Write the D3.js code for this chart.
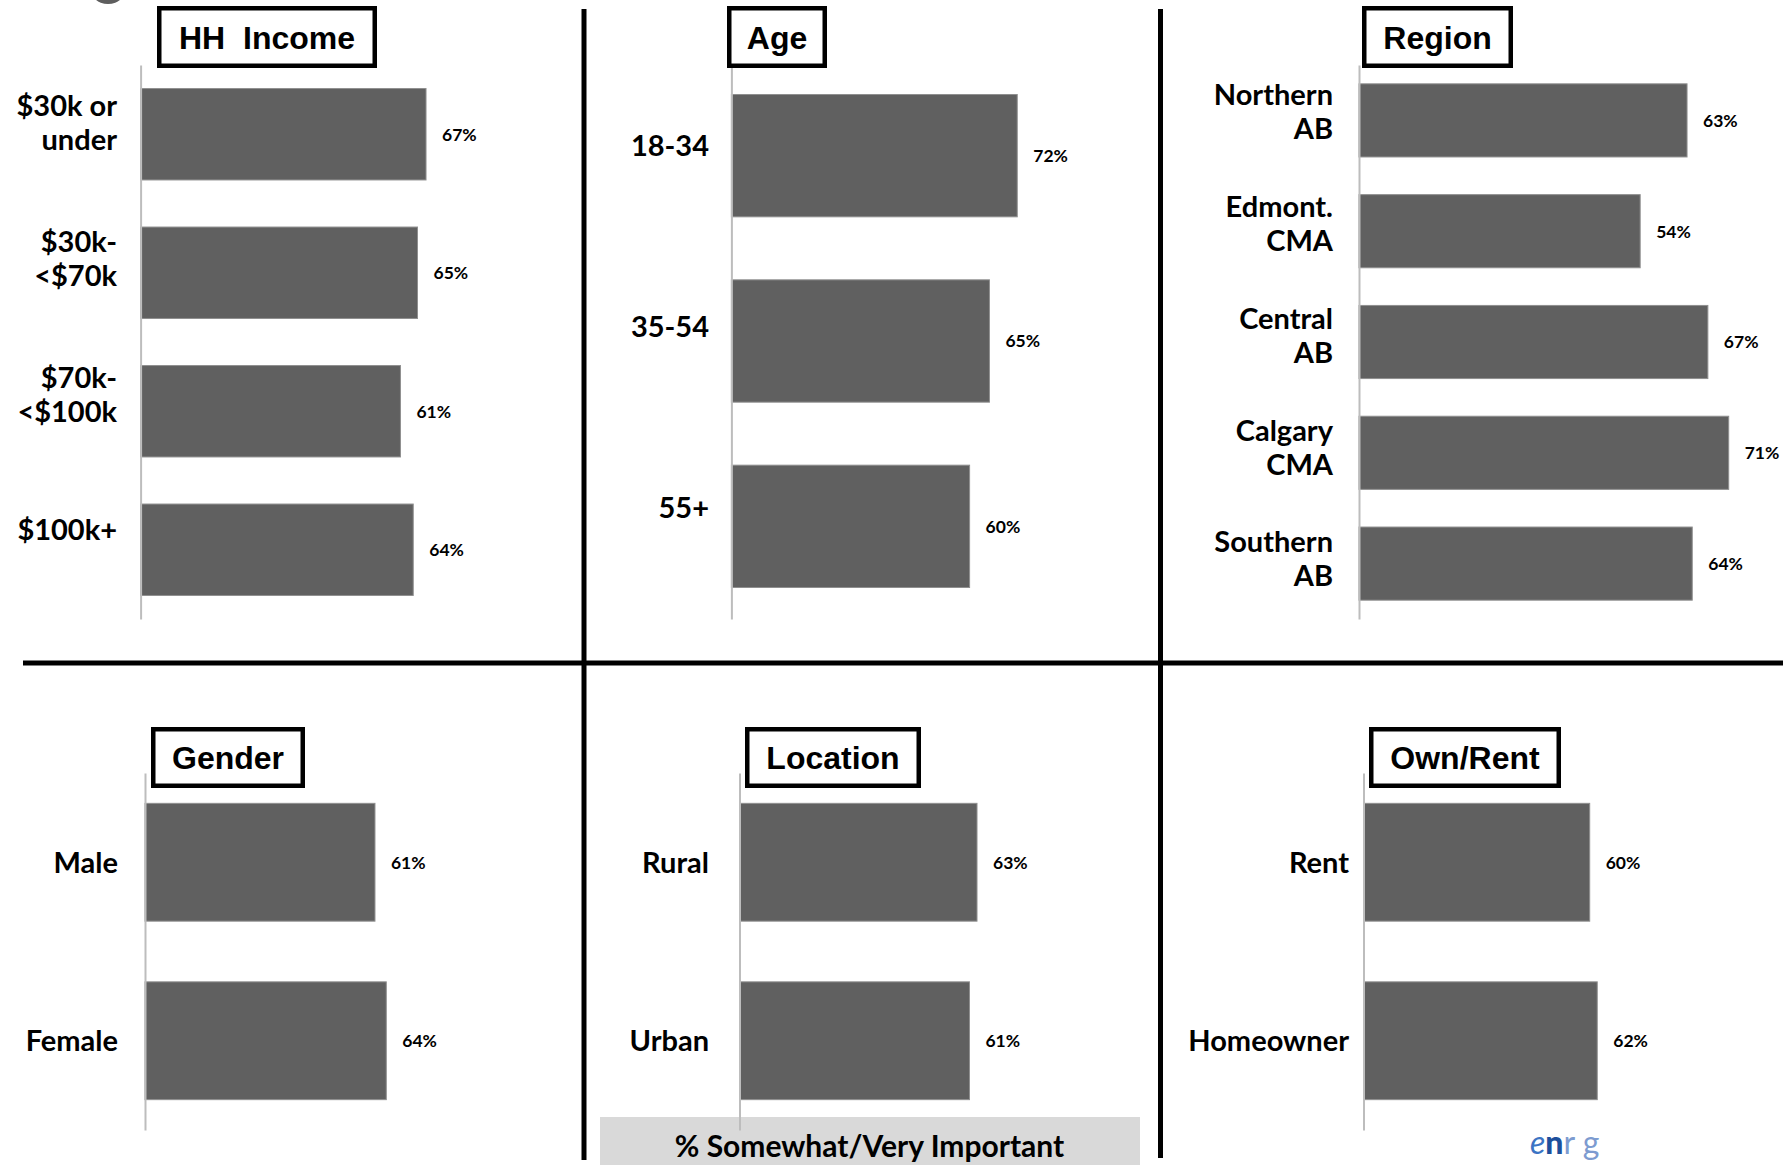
<!DOCTYPE html>
<html>
<head>
<meta charset="utf-8">
<script src="https://cdn.jsdelivr.net/npm/d3@7"></script>
<style>
  html, body { margin: 0; padding: 0; background: #ffffff; }
  svg { display: block; }
</style>
</head>
<body>
<svg id="chart" width="1792" height="1165"></svg>
<script>
// ---- data ----
const incomeCategories = ["$30k or\nunder", "$30k-\n<$70k", "$70k-\n<$100k", "$100k+"];
const incomeValues = [67, 65, 61, 64];

const ageCategories = ["18-34", "35-54", "55+"];
const ageValues = [72, 65, 60];

const regionCategories = ["Northern\nAB", "Edmont.\nCMA", "Central\nAB", "Calgary\nCMA", "Southern\nAB"];
const regionValues = [63, 54, 67, 71, 64];

const genderCategories = ["Male", "Female"];
const genderValues = [61, 64];

const locationCategories = ["Rural", "Urban"];
const locationValues = [63, 61];

const tenureCategories = ["Rent", "Homeowner"];
const tenureValues = [60, 62];

const panelTitles = ["HH  Income", "Age", "Region", "Gender", "Location", "Own/Rent"];
const footnote = "% Somewhat/Very Important";

// ---- layout ----
const panels = [
  { title: panelTitles[0], cats: incomeCategories, vals: incomeValues,
    axisX: 140.6, ppp: 4.26, yRange: [65, 619], labelRange: [123, 530], labelX: 117,
    box: { x: 157, y: 6, w: 220, h: 62 } },
  { title: panelTitles[1], cats: ageCategories, vals: ageValues,
    axisX: 731.4, ppp: 3.97, yRange: [63, 619], labelRange: [146, 508], labelX: 709,
    box: { x: 727, y: 6, w: 100, h: 62 } },
  { title: panelTitles[2], cats: regionCategories, vals: regionValues,
    axisX: 1359, ppp: 5.207, yRange: [65, 619], labelRange: [112, 559], labelX: 1333,
    box: { x: 1362, y: 6, w: 151, h: 62 } },
  { title: panelTitles[3], cats: genderCategories, vals: genderValues,
    axisX: 145, ppp: 3.77, yRange: [773, 1130], labelRange: null, labelX: 118,
    box: { x: 151, y: 727, w: 154, h: 61 } },
  { title: panelTitles[4], cats: locationCategories, vals: locationValues,
    axisX: 739.5, ppp: 3.77, yRange: [773, 1130], labelRange: null, labelX: 709,
    box: { x: 745, y: 727, w: 176, h: 61 } },
  { title: panelTitles[5], cats: tenureCategories, vals: tenureValues,
    axisX: 1363.5, ppp: 3.77, yRange: [773, 1130], labelRange: null, labelX: 1349,
    box: { x: 1369, y: 727, w: 192, h: 61 } }
];

const LABEL_FONT = "Lato, 'Open Sans', sans-serif";
const TITLE_FONT = "'Liberation Sans', Arial, sans-serif";
const BAR_FILL = "#606060";

const svg = d3.select("#chart");

// remnant of the header emblem at the top-left corner
svg.append("ellipse")
  .attr("cx", 108).attr("cy", -14).attr("rx", 19).attr("ry", 18)
  .attr("fill", "#5e5e5e");

// footnote band
svg.append("rect")
  .attr("x", 600).attr("y", 1117).attr("width", 540).attr("height", 60)
  .attr("fill", "#d9d9d9");
svg.append("text")
  .attr("x", 869.5).attr("y", 1157)
  .attr("text-anchor", "middle")
  .attr("font-family", LABEL_FONT).attr("font-weight", 700).attr("font-size", 30)
  .attr("fill", "#000")
  .text(footnote);

panels.forEach(p => {
  const g = svg.append("g");

  const y = d3.scaleBand()
    .domain(p.cats)
    .range(p.yRange)
    .paddingInner(0.34)
    .paddingOuter(0.17);

  const x = d3.scaleLinear()
    .domain([0, 100])
    .range([p.axisX, p.axisX + 100 * p.ppp]);

  const labelY = p.labelRange
    ? d3.scalePoint().domain(p.cats).range(p.labelRange)
    : (c => y(c) + y.bandwidth() / 2);

  // bars
  g.selectAll("rect.bar")
    .data(p.cats.map((c, i) => ({ c, v: p.vals[i] })))
    .join("rect")
    .attr("class", "bar")
    .attr("x", x(0))
    .attr("y", d => y(d.c))
    .attr("width", d => x(d.v) - x(0))
    .attr("height", y.bandwidth())
    .attr("fill", BAR_FILL)
    .attr("stroke", "#8f8f8f")
    .attr("stroke-width", 1);

  // value labels
  g.selectAll("text.val")
    .data(p.cats.map((c, i) => ({ c, v: p.vals[i] })))
    .join("text")
    .attr("class", "val")
    .attr("x", d => x(d.v) + 16)
    .attr("y", d => y(d.c) + y.bandwidth() / 2)
    .attr("dy", "0.36em")
    .attr("font-family", LABEL_FONT).attr("font-weight", 700).attr("font-size", 17.5)
    .attr("fill", "#000")
    .text(d => d.v + "%");

  // vertical category axis line
  const axis = d3.axisLeft(y).tickSize(0).tickSizeOuter(0).tickFormat("");
  const ag = g.append("g").attr("transform", `translate(${p.axisX},0)`).call(axis);
  ag.select(".domain").attr("stroke", "#bdbdbd").attr("stroke-width", 2);

  // category labels (multi-line, right aligned)
  const lineH = 34;
  p.cats.forEach(c => {
    const lines = c.split("\n");
    const cy = labelY(c);
    const t = g.append("text")
      .attr("text-anchor", "end")
      .attr("font-family", LABEL_FONT).attr("font-weight", 700).attr("font-size", 29)
      .attr("fill", "#000");
    lines.forEach((ln, i) => {
      t.append("tspan")
        .attr("x", p.labelX)
        .attr("y", cy + (i - (lines.length - 1) / 2) * lineH)
        .attr("dy", "0.36em")
        .text(ln);
    });
  });

  // boxed panel title
  const b = p.box, sw = 4.5;
  g.append("rect")
    .attr("x", b.x + sw / 2).attr("y", b.y + sw / 2)
    .attr("width", b.w - sw).attr("height", b.h - sw)
    .attr("fill", "#fff").attr("stroke", "#000").attr("stroke-width", sw);
  g.append("text")
    .attr("x", b.x + b.w / 2).attr("y", b.y + b.h / 2)
    .attr("dy", "0.36em")
    .attr("text-anchor", "middle")
    .attr("font-family", TITLE_FONT).attr("font-weight", 700).attr("font-size", 32)
    .attr("fill", "#000")
    .attr("xml:space", "preserve")
    .style("white-space", "pre")
    .text(p.title);
});

// panel dividers
const dividers = [
  { x1: 584, y1: 9, x2: 584, y2: 1160 },
  { x1: 1160.5, y1: 9, x2: 1160.5, y2: 1158 },
  { x1: 23, y1: 663, x2: 1783, y2: 663 }
];
svg.append("g").selectAll("line")
  .data(dividers)
  .join("line")
  .attr("x1", d => d.x1).attr("y1", d => d.y1)
  .attr("x2", d => d.x2).attr("y2", d => d.y2)
  .attr("stroke", "#000").attr("stroke-width", 5);

// small corner logo
const logo = svg.append("text")
  .attr("x", 1530).attr("y", 1154)
  .attr("font-family", LABEL_FONT).attr("font-size", 32);
logo.append("tspan").attr("font-style", "italic")
  .attr("fill", "#3b74c4").text("e");
logo.append("tspan").attr("font-weight", 900).attr("fill", "#1d4f9c").text("n");
logo.append("tspan").attr("fill", "#7d9bd0").attr("letter-spacing", 8).text("rg");
</script>
</body>
</html>
